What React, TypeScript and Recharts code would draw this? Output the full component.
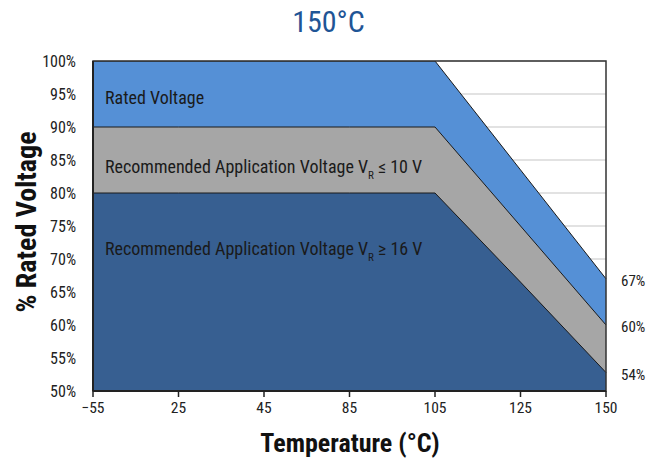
import { AreaChart, Area, XAxis, YAxis, CartesianGrid, ReferenceArea, ReferenceDot, LabelList } from 'recharts';

const temps = ['\u221255', '25', '45', '85', '105', '125', '150'];
const ratedVoltage = [100, 100, 100, 100, 100, 83.5, 67];
const appVoltageLow = [90, 90, 90, 90, 90, 75, 60];
const appVoltageHigh = [80, 80, 80, 80, 80, 66.5, 52.8];
const endLabels = ['67%', '60%', '54%'];
const yTicks = [50, 55, 60, 65, 70, 75, 80, 85, 90, 95, 100];

const FONT = "'Roboto Condensed', 'Liberation Sans Narrow', 'DejaVu Sans Condensed', Roboto, sans-serif";

const chartData = temps.map((t, i) => ({
  temp: t,
  rated: ratedVoltage[i],
  low: appVoltageLow[i],
  high: appVoltageHigh[i],
}));

function endLabel(text: string) {
  return (props: any) => {
    if (props.index !== temps.length - 1) return null;
    return (
      <text x={props.x + 15} y={props.y + 2} dy="0.35em" fontSize={15} fill="#222" fontFamily={FONT}>
        {text}
      </text>
    );
  };
}

function areaText(main: string, sub?: string, tail?: string) {
  return (props: any) => {
    const { x, y } = props.viewBox;
    return (
      <text x={x + 12} y={y} dy="0.35em" fontSize={18} fill="#1a1a1a" fontFamily={FONT}>
        {main}
        {sub && (
          <tspan fontSize={11} dy={6}>
            {sub}
          </tspan>
        )}
        {tail && <tspan dy={-6}>{tail}</tspan>}
      </text>
    );
  };
}

export default function App() {
  return (
    <div style={{ position: 'absolute', left: 0, top: 0, width: 657, height: 458, fontFamily: FONT }}>
      <div
        style={{
          position: 'absolute',
          left: 0,
          width: 657,
          top: 4,
          textAlign: 'center',
          fontSize: 30,
          color: '#1f5596',
        }}
      >
        150°C
      </div>
      <div
        style={{
          position: 'absolute',
          left: 26,
          top: 222,
          transform: 'translate(-50%, -50%) rotate(-90deg)',
          whiteSpace: 'nowrap',
          fontSize: 28,
          fontWeight: 'bold',
          color: '#111',
        }}
      >
        % Rated Voltage
      </div>
      <div
        style={{
          position: 'absolute',
          left: 350,
          top: 443,
          transform: 'translate(-50%, -50%)',
          whiteSpace: 'nowrap',
          fontSize: 26,
          fontWeight: 'bold',
          color: '#111',
        }}
      >
        Temperature (°C)
      </div>
      <AreaChart
        width={657}
        height={458}
        data={chartData}
        margin={{ top: 61, right: 51, left: 5, bottom: 37 }}
        style={{ position: 'absolute', left: 0, top: 0 }}
      >
        <CartesianGrid vertical={false} stroke="#d9d9d9" strokeWidth={1.5} />
        <XAxis
          dataKey="temp"
          axisLine={{ stroke: '#222', strokeWidth: 2 }}
          tickLine={{ stroke: '#222', strokeWidth: 1.5 }}
          tickSize={6}
          tickMargin={5}
          tick={{ fontSize: 15.5, fill: '#222', fontFamily: FONT }}
          interval={0}
        />
        <YAxis
          domain={[50, 100]}
          ticks={yTicks}
          width={88}
          axisLine={{ stroke: '#222', strokeWidth: 2 }}
          tickLine={false}
          tickSize={0}
          tickMargin={17}
          tickFormatter={(v: number) => `${v}%`}
          tick={{ fontSize: 16, fill: '#222', fontFamily: FONT }}
          allowDataOverflow
        />
        <Area
          type="linear"
          dataKey="rated"
          baseValue="dataMin"
          fill="#5590d6"
          fillOpacity={1}
          stroke="#1a1a1a"
          strokeWidth={1}
          isAnimationActive={false}
        >
          <LabelList dataKey="rated" content={endLabel(endLabels[0])} />
        </Area>
        <Area
          type="linear"
          dataKey="low"
          baseValue="dataMin"
          fill="#a6a6a6"
          fillOpacity={1}
          stroke="#1a1a1a"
          strokeWidth={1}
          isAnimationActive={false}
        >
          <LabelList dataKey="low" content={endLabel(endLabels[1])} />
        </Area>
        <Area
          type="linear"
          dataKey="high"
          baseValue="dataMin"
          fill="#375f91"
          fillOpacity={1}
          stroke="#1a1a1a"
          strokeWidth={1}
          isAnimationActive={false}
        >
          <LabelList dataKey="high" content={endLabel(endLabels[2])} />
        </Area>
        <ReferenceArea
          x1={temps[0]}
          x2={temps[temps.length - 1]}
          y1={50}
          y2={100}
          fill="none"
          stroke="#333"
          strokeWidth={1.5}
        />
        <ReferenceDot x={temps[0]} y={94.5} r={0} label={areaText('Rated Voltage')} />
        <ReferenceDot
          x={temps[0]}
          y={84}
          r={0}
          label={areaText('Recommended Application Voltage V', 'R', ' \u2264 10 V')}
        />
        <ReferenceDot
          x={temps[0]}
          y={71.6}
          r={0}
          label={areaText('Recommended Application Voltage V', 'R', ' \u2265 16 V')}
        />
      </AreaChart>
    </div>
  );
}
